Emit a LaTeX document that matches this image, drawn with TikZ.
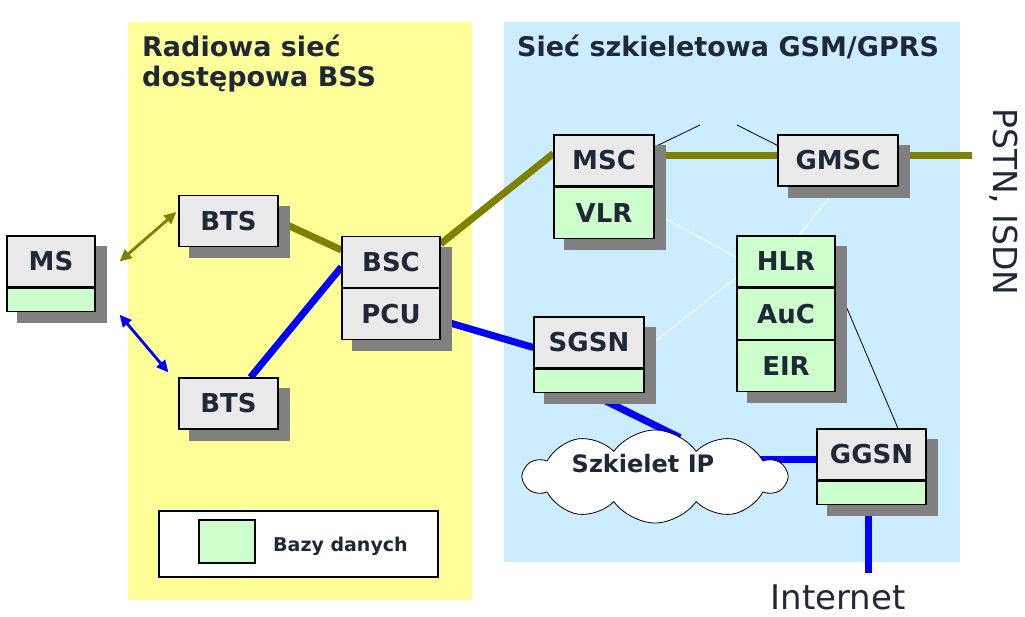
\documentclass[tikz,border=0pt]{standalone}
\usepackage{fontspec}
\setmainfont{DejaVu Sans}
\usepackage{tikz}
\usetikzlibrary{arrows.meta,positioning,shapes.symbols}

\definecolor{bssyellow}{HTML}{FFFF99}
\definecolor{coreblue}{HTML}{CCECFF}
\definecolor{dbgreen}{HTML}{CCFFCC}
\definecolor{hdrgray}{HTML}{EAEAEA}
\definecolor{shadowgray}{HTML}{808080}
\definecolor{gsmolive}{HTML}{808000}
\definecolor{gprsblue}{HTML}{0000FF}
\definecolor{ink}{RGB}{30,40,55}

\pgfdeclarelayer{bg}
\pgfdeclarelayer{wires}
\pgfdeclarelayer{shade}
\pgfsetlayers{bg,wires,shade,main}

% shadow behind a stack of boxes, from top box #1 to bottom box #2
\newcommand{\shadebox}[2]{%
  \begin{pgfonlayer}{shade}
    \fill[shadowgray] ([shift={(11pt,-11pt)}]#1.north west) rectangle ([shift={(11pt,-11pt)}]#2.south east);
  \end{pgfonlayer}}

\begin{document}
\begin{tikzpicture}[
      x=1pt, y=-1pt,
      every node/.style={text=ink},
      unit/.style={draw, line width=1.2pt, inner sep=0pt, minimum height=51pt,
        font=\fontsize{26}{30}\selectfont\bfseries},
      hdr/.style={unit, fill=hdrgray},
      db/.style={unit, fill=dbgreen},
      slim/.style={db, minimum height=23pt},
      title/.style={inner sep=0pt, align=left, font=\fontsize{27}{30}\selectfont\bfseries},
      outside/.style={inner sep=0pt, font=\fontsize{34}{40}\selectfont},
      gsmline/.style={draw=gsmolive, line width=7pt},
      gprsline/.style={draw=gprsblue, line width=7pt},
      air/.style={line width=2.8pt, {Triangle[length=12pt,width=11pt]}-{Triangle[length=12pt,width=11pt]}},
      sigline/.style={draw=black, line width=0.8pt},
      mapline/.style={draw=white, line width=1pt}
    ]
    \useasboundingbox (0,0) rectangle (1025,616);
    % network areas
    \begin{pgfonlayer}{bg}
      \fill[bssyellow] (128,22) rectangle (472,600);
      \fill[coreblue] (504,22) rectangle (960,562);
    \end{pgfonlayer}
    \node[title, anchor=base west] (bsstitle) at (142,86) {Radiowa sieć\\dostępowa BSS};
    \node[title, anchor=base west] (coretitle) at (517,56) {Sieć szkieletowa GSM/GPRS};

    % terminal and radio part
    \node[hdr, minimum width=88pt] (ms) at (51,261.5) {MS};
    \node[slim, minimum width=88pt, below=0pt of ms] (msdb) {};
    \node[hdr, minimum width=99pt] (btsa) at (228.5,221) {BTS};
    \node[hdr, minimum width=99pt] (btsb) at (228.5,403.5) {BTS};
    \node[hdr, minimum width=98pt] (bsc) at (391,262) {BSC};
    \node[hdr, minimum width=98pt, below=0pt of bsc] (pcu) {PCU};

    % core network
    \node[hdr, minimum width=100pt] (msc) at (604,160.5) {MSC};
    \node[db, minimum width=100pt, below=0pt of msc] (vlr) {VLR};
    \node[hdr, minimum width=120pt] (gmsc) at (838,160.5) {GMSC};
    \node[db, minimum width=98pt] (hlr) at (786,261.5) {HLR};
    \node[db, minimum width=98pt, below=0pt of hlr] (auc) {AuC};
    \node[db, minimum width=98pt, below=0pt of auc] (eir) {EIR};
    \node[hdr, minimum width=110pt] (sgsn) at (589,342.5) {SGSN};
    \node[slim, minimum width=110pt, below=0pt of sgsn] (sgsndb) {};
    \node[hdr, minimum width=109pt] (ggsn) at (871.5,454.5) {GGSN};
    \node[slim, minimum width=109pt, below=0pt of ggsn] (ggsndb) {};
    \node[cloud, cloud puffs=10, cloud puff arc=110, aspect=2.8, draw, fill=white, line width=0.8pt,
      minimum width=262pt, minimum height=93pt,
      label={[shift={(-12pt,13pt)}, font=\fontsize{24}{28}\selectfont\bfseries, text=ink]center:Szkielet IP}]
      (ip) at (655,476.5) {};

    \foreach \top/\bot in {ms/msdb, btsa/btsa, btsb/btsb, bsc/pcu, msc/vlr, gmsc/gmsc, hlr/eir, sgsn/sgsndb, ggsn/ggsndb}{
      \shadebox{\top}{\bot}
    }

    % outside networks
    \node[outside, anchor=base] (inet) at (838,609) {Internet};
    \node[outside, font=\fontsize{33}{40}\selectfont, rotate=-90, anchor=base west] (pstn) at (993,108) {PSTN, ISDN};
    \coordinate (pstnend) at (972,155.5);

    % legend
    \node[draw, line width=1.2pt, fill=white, minimum width=279pt, minimum height=66pt] (legend) at (298.5,544) {};
    \node[draw, line width=1.2pt, fill=dbgreen, minimum width=56pt, minimum height=43pt] (legendkey) at (227,541.5) {};
    \node[anchor=base west, inner sep=0pt, font=\fontsize{19}{22}\selectfont\bfseries] (legendtxt) at (273,551) {Bazy danych};

    % radio interface
    \draw[air, gsmolive] ([xshift=24pt]ms.east) -- ([shift={(-2pt,9pt)}]btsa.west);
    \draw[air, gprsblue] ([shift={(24pt,-15pt)}]msdb.east) -- ([shift={(-10pt,5pt)}]btsb.north west);

    \begin{pgfonlayer}{wires}
      % circuit switched part
      \draw[gsmline] (btsa.east) -- ([yshift=12pt]bsc.west);
      \draw[gsmline] ([yshift=-8pt]bsc.north east) -- ([yshift=7pt]msc.west);
      \draw[gsmline] ([yshift=5pt]msc.east) -- ([yshift=5pt]gmsc.west);
      \draw[gsmline] ([yshift=5pt]gmsc.east) -- (pstnend);
      % packet switched part
      \draw[gprsline] ([xshift=22pt]btsb.north) -- ([yshift=-5pt]bsc.west);
      \draw[gprsline] ([yshift=-6pt]pcu.east) -- ([yshift=-5pt]sgsn.west);
      \draw[gprsline] (sgsndb.south) -- ([shift={(25pt,-8pt)}]ip.north);
      \draw[gprsline] ([yshift=-5pt]ggsn.west) -- ([yshift=-5pt]ggsn.west -| ip.center);
      \coordinate (inetfoot) at ([xshift=-3.5pt]ggsndb.south);
      \draw[gprsline] (inetfoot) -- ([yshift=11pt]inetfoot |- inet.north);
      % signalling
      \coordinate (gapl) at (700,125);
      \coordinate (gapr) at (737,125);
      \draw[sigline] ([yshift=-12.5pt]msc.north east) -- (gapl);
      \draw[sigline] (gapr) -- ([yshift=-11pt]gmsc.north west);
      \draw[sigline] ([yshift=6pt]auc.north east) -- ([xshift=26.5pt]ggsn.north);
      \draw[mapline] (vlr.east) -- ([yshift=4pt]hlr.west);
      \draw[mapline] ([yshift=-7pt]sgsn.east) -- ([yshift=-16pt]hlr.west);
      \draw[mapline] (gmsc.south) -- ([xshift=13pt]hlr.north);
    \end{pgfonlayer}
  \end{tikzpicture}
\end{document}
